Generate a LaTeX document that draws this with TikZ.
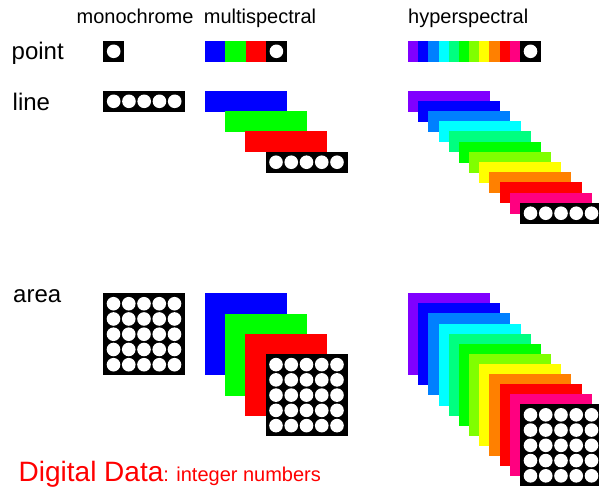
\documentclass[tikz,border=0pt]{standalone}
\usepackage{fontspec}
\setmainfont{Liberation Sans}
\definecolor{cPur}{RGB}{128,0,255}
\definecolor{cBlu}{RGB}{0,0,255}
\definecolor{cAzu}{RGB}{0,128,255}
\definecolor{cCya}{RGB}{0,255,255}
\definecolor{cSpr}{RGB}{0,255,128}
\definecolor{cGre}{RGB}{0,255,0}
\definecolor{cCha}{RGB}{128,255,0}
\definecolor{cYel}{RGB}{255,255,0}
\definecolor{cOra}{RGB}{255,128,0}
\definecolor{cRed}{RGB}{255,0,0}
\definecolor{cRos}{RGB}{255,0,128}
\newcommand\cellgrid[4]{% x y ncols nrows
  \fill[black] (#1,#2) rectangle ++({21+15.25*(#3-1)},{21+15.25*(#4-1)});
  \foreach \ii in {1,...,#3}{\foreach \jj in {1,...,#4}{%
    \fill[white] ({#1+10.5+15.25*(\ii-1)},{#2+10.5+15.25*(\jj-1)}) circle (6.8pt);}}%
}
\tikzset{
  collabel/.style={anchor=base west, inner sep=0pt, font=\fontsize{20}{24}\selectfont},
  rowlabel/.style={anchor=base west, inner sep=0pt, font=\fontsize{24}{28}\selectfont},
}
\begin{document}
\begin{tikzpicture}[x=1pt,y=-1pt]
\useasboundingbox (0,0) rectangle (599,488);
\clip (0,0) rectangle (599,488);
% column labels
\node[collabel] (lmono) at (76.5,23) {monochrome};
\node[collabel] (lmulti) at (203.7,23) {multispectral};
\node[collabel] (lhyper) at (408,23) {hyperspectral};
% row labels
\node[rowlabel] (lpoint) at (11.5,59.5) {point};
\node[rowlabel] (lline) at (12.5,110) {line};
\node[rowlabel] (larea) at (13,302.5) {area};
% ---- point row
\cellgrid{103.2}{40.8}{1}{1}
\foreach \c [count=\k from 0] in {cBlu,cGre,cRed}
  \fill[\c] ({205+20.3*\k},40.8) rectangle ++(20.3,21);
\cellgrid{265.9}{40.8}{1}{1}
\foreach \c [count=\k from 0] in {cPur,cBlu,cAzu,cCya,cSpr,cGre,cCha,cYel,cOra,cRed,cRos}
  \fill[\c] ({408+10.18*\k},40.8) rectangle ++(10.18,21);
\cellgrid{520}{40.8}{1}{1}
% ---- line row
\cellgrid{103.2}{90.8}{5}{1}
\foreach \c [count=\k from 0] in {cBlu,cGre,cRed}
  \fill[\c] ({204.6+20.3*\k},{90.8+20.3*\k}) rectangle ++(82,21);
\cellgrid{265.5}{151.7}{5}{1}
\foreach \c [count=\k from 0] in {cPur,cBlu,cAzu,cCya,cSpr,cGre,cCha,cYel,cOra,cRed,cRos}
  \fill[\c] ({408+10.18*\k},{90.8+10.17*\k}) rectangle ++(82,21);
\cellgrid{520}{202.7}{5}{1}
% ---- area row
\cellgrid{103}{293.2}{5}{5}
\foreach \c [count=\k from 0] in {cBlu,cGre,cRed}
  \fill[\c] ({204.6+20.3*\k},{293.2+20.3*\k}) rectangle ++(82,82);
\cellgrid{265.5}{354.1}{5}{5}
\foreach \c [count=\k from 0] in {cPur,cBlu,cAzu,cCya,cSpr,cGre,cCha,cYel,cOra,cRed,cRos}
  \fill[\c] ({408+10.18*\k},{293.2+10.1*\k}) rectangle ++(82,82);
\cellgrid{520}{404.3}{5}{5}
% ---- caption
\node[anchor=base west, inner sep=0pt, text=cRed] (cap) at (18.5,481.5)
  {{\fontsize{28}{32}\selectfont Digital Data}{\fontsize{20}{24}\selectfont: integer numbers}};
\end{tikzpicture}
\end{document}
